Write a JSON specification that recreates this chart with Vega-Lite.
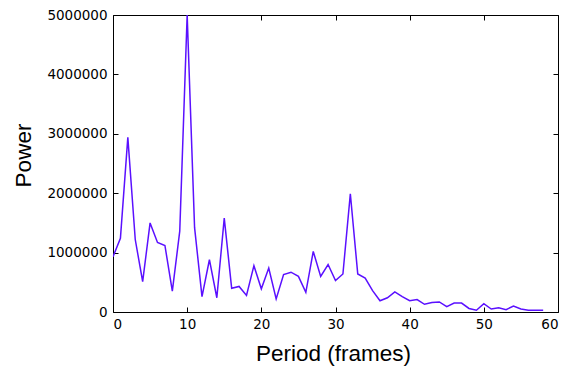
{
  "$schema": "https://vega.github.io/schema/vega-lite/v6.json",
  "autosize": "none",
  "width": 445,
  "height": 297,
  "padding": {"left": 113, "top": 15, "right": 21, "bottom": 60},
  "background": "white",
  "config": {
    "view": {"stroke": "black", "strokeWidth": 1},
    "axis": {
      "grid": false,
      "domain": false,
      "tickColor": "black",
      "tickSize": -5,
      "labelFont": "DejaVu Sans",
      "labelFontSize": 13.5,
      "labelColor": "black",
      "titleFont": "Liberation Sans",
      "titleFontSize": 22.5,
      "titleFontWeight": "normal",
      "titleColor": "black"
    }
  },
  "data": {"values": [
    {"period": 0, "power": 930000},
    {"period": 1, "power": 1240000},
    {"period": 2, "power": 2940000},
    {"period": 3, "power": 1220000},
    {"period": 4, "power": 510000},
    {"period": 5, "power": 1500000},
    {"period": 6, "power": 1170000},
    {"period": 7, "power": 1120000},
    {"period": 8, "power": 350000},
    {"period": 9, "power": 1360000},
    {"period": 10, "power": 5000000},
    {"period": 11, "power": 1420000},
    {"period": 12, "power": 260000},
    {"period": 13, "power": 880000},
    {"period": 14, "power": 240000},
    {"period": 15, "power": 1580000},
    {"period": 16, "power": 400000},
    {"period": 17, "power": 430000},
    {"period": 18, "power": 280000},
    {"period": 19, "power": 780000},
    {"period": 20, "power": 390000},
    {"period": 21, "power": 740000},
    {"period": 22, "power": 220000},
    {"period": 23, "power": 630000},
    {"period": 24, "power": 670000},
    {"period": 25, "power": 600000},
    {"period": 26, "power": 330000},
    {"period": 27, "power": 1020000},
    {"period": 28, "power": 600000},
    {"period": 29, "power": 800000},
    {"period": 30, "power": 530000},
    {"period": 31, "power": 640000},
    {"period": 32, "power": 1990000},
    {"period": 33, "power": 640000},
    {"period": 34, "power": 570000},
    {"period": 35, "power": 360000},
    {"period": 36, "power": 190000},
    {"period": 37, "power": 240000},
    {"period": 38, "power": 340000},
    {"period": 39, "power": 260000},
    {"period": 40, "power": 190000},
    {"period": 41, "power": 210000},
    {"period": 42, "power": 130000},
    {"period": 43, "power": 160000},
    {"period": 44, "power": 170000},
    {"period": 45, "power": 90000},
    {"period": 46, "power": 150000},
    {"period": 47, "power": 150000},
    {"period": 48, "power": 60000},
    {"period": 49, "power": 30000},
    {"period": 50, "power": 140000},
    {"period": 51, "power": 50000},
    {"period": 52, "power": 70000},
    {"period": 53, "power": 40000},
    {"period": 54, "power": 100000},
    {"period": 55, "power": 50000},
    {"period": 56, "power": 30000},
    {"period": 57, "power": 30000},
    {"period": 58, "power": 30000}
  ]},
  "layer": [
    {
      "mark": {"type": "line", "color": "#5a10ff", "strokeWidth": 1.5, "clip": true},
      "encoding": {
        "x": {"field": "period", "type": "quantitative", "scale": {"domain": [0, 60], "nice": false},
              "axis": {"title": "Period (frames)", "values": [0,10,20,30,40,50,60], "labelPadding": 10, "titlePadding": 12, "titleX": 220}},
        "y": {"field": "power", "type": "quantitative", "scale": {"domain": [0, 5000000], "nice": false},
              "axis": {"title": "Power", "values": [0,1000000,2000000,3000000,4000000,5000000], "format": "d", "labelPadding": 11, "titlePadding": 11, "titleY": 140}}
      }
    },
    {
      "mark": {"type": "point", "opacity": 0},
      "encoding": {
        "x": {"field": "period", "type": "quantitative", "scale": {"domain": [0, 60], "nice": false},
              "axis": {"orient": "top", "title": null, "labels": false, "values": [0,10,20,30,40,50,60]}},
        "y": {"field": "power", "type": "quantitative", "scale": {"domain": [0, 5000000], "nice": false},
              "axis": {"orient": "right", "title": null, "labels": false, "values": [0,1000000,2000000,3000000,4000000,5000000]}}
      }
    }
  ],
  "resolve": {"scale": {"x": "independent", "y": "independent"}, "axis": {"x": "independent", "y": "independent"}}
}
